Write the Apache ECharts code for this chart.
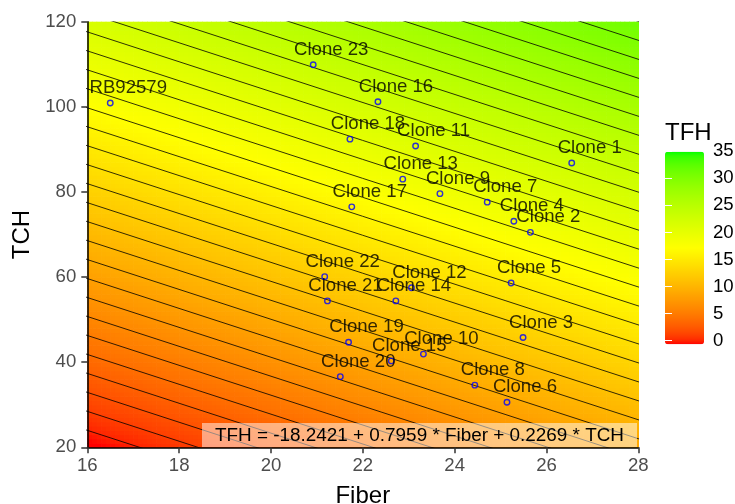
<!DOCTYPE html>
<html>
<head>
<meta charset="utf-8">
<script src="https://cdn.jsdelivr.net/npm/echarts@6/dist/echarts.min.js"></script>
<style>html,body{margin:0;padding:0;background:#fff;}#c{width:735px;height:504px;}</style>
</head>
<body>
<div id="c"></div>
<script>
// ---- data ----
const genotypes = ['RB92579','Clone 1','Clone 2','Clone 3','Clone 4','Clone 5','Clone 6','Clone 7','Clone 8','Clone 9','Clone 10','Clone 11','Clone 12','Clone 13','Clone 14','Clone 15','Clone 16','Clone 17','Clone 18','Clone 19','Clone 20','Clone 21','Clone 22','Clone 23'];
const fiber = [16.50,26.55,25.65,25.49,25.29,25.23,25.14,24.71,24.44,23.68,23.32,23.15,23.06,22.87,22.72,22.62,22.33,21.76,21.72,21.69,21.51,21.23,21.17,20.92];
const tch   = [100.9,86.8,70.5,45.8,73.1,58.6,30.6,77.6,34.6,79.6,41.9,90.8,57.5,83.0,54.4,40.3,101.2,76.5,92.4,44.7,36.6,54.4,60.1,109.9];
// fitted surface shown on the chart: TFH = b0 + b1*Fiber + b2*TCH
const b0 = -18.2421, b1 = 0.7959, b2 = 0.2269;
const equationText = 'TFH = -18.2421 + 0.7959 * Fiber + 0.2269 * TCH';
const xTicks = [16,18,20,22,24,26,28];
const yTicks = [20,40,60,80,100,120];
const legendTicks = [0,5,10,15,20,25,30,35];
const contourStart = -0.065, contourStep = 1.0115;
const colorMin = -0.66, colorMax = 35;

// ---- colour ramp red-yellow-green interpolated in CIELAB ----
function toLin(c){c/=255;return c<=0.04045?c/12.92:Math.pow((c+0.055)/1.055,2.4);}
function toLab(rgb){
  const r=toLin(rgb[0]),g=toLin(rgb[1]),b=toLin(rgb[2]);
  let X=(0.4124*r+0.3576*g+0.1805*b)/0.95047,Y=(0.2126*r+0.7152*g+0.0722*b),Z=(0.0193*r+0.1192*g+0.9505*b)/1.08883;
  const f=t=>t>0.008856?Math.cbrt(t):7.787*t+16/116;
  const fx=f(X),fy=f(Y),fz=f(Z);
  return [116*fy-16,500*(fx-fy),200*(fy-fz)];
}
function fromLab(lab){
  const fy=(lab[0]+16)/116,fx=fy+lab[1]/500,fz=fy-lab[2]/200;
  const inv=f=>{const c=f*f*f;return c>0.008856?c:(f-16/116)/7.787;};
  const X=inv(fx)*0.95047,Y=inv(fy),Z=inv(fz)*1.08883;
  let r=3.2406*X-1.5372*Y-0.4986*Z,g=-0.9689*X+1.8758*Y+0.0415*Z,b=0.0557*X-0.2040*Y+1.0570*Z;
  const gam=c=>{c=c<=0.0031308?12.92*c:1.055*Math.pow(c,1/2.4)-0.055;return Math.round(Math.max(0,Math.min(1,c))*255);};
  return 'rgb('+gam(r)+','+gam(g)+','+gam(b)+')';
}
const anchors=[[255,0,0],[255,255,0],[0,255,0]].map(toLab);
const ramp=[];
const NR=60;
for(let i=0;i<=NR;i++){
  const t=i/NR*2;const s=Math.min(1,Math.floor(t));
  const uu=t-s;
  const a=anchors[s],b=anchors[s+1];
  ramp.push(fromLab([a[0]+(b[0]-a[0])*uu,a[1]+(b[1]-a[1])*uu,a[2]+(b[2]-a[2])*uu]));
}

// ---- surface cells ----
const DF=0.1, DT=1;
const cells=[];
for(let f=16+DF/2; f<28; f+=DF){
  for(let t=20+DT/2; t<120; t+=DT){
    let z=b0+b1*f+b2*t;
    z=Math.max(colorMin,Math.min(colorMax,z));
    cells.push([f,t,z]);
  }
}

// ---- contour lines ----
const contourSeries=[];
for(let k=-1;k<=33;k++){
  const lev=contourStart+k*contourStep;
  const tAt=f=>(lev-b0-b1*f)/b2;
  contourSeries.push({
    type:'line', silent:true, symbol:'none', clip:true, z:3, animation:false,
    data:[[15,tAt(15)],[29,tAt(29)]],
    lineStyle:{color:'#000',width:0.8}
  });
}

const points=genotypes.map((n,i)=>({name:n,value:[fiber[i],tch[i]]}));
const FONT='Liberation Sans';

const chart=echarts.init(document.getElementById('c'),null,{renderer:'canvas'});
chart.setOption({
  animation:false,
  textStyle:{fontFamily:FONT},
  grid:[
    {left:87.3,right:96.7,top:21.7,bottom:56.7,containLabel:false,outerBoundsMode:'none'},
    {left:665,width:39,top:151.2,height:189.5,containLabel:false,outerBoundsMode:'none'}
  ],
  xAxis:[
    {type:'value',min:xTicks[0],max:xTicks[xTicks.length-1],interval:2,z:6,
     name:'Fiber',nameLocation:'middle',nameGap:37,nameTextStyle:{fontSize:24,color:'#000',fontFamily:FONT},
     axisLine:{lineStyle:{color:'#000',width:1.5}},
     axisTick:{length:6,lineStyle:{color:'#333',width:1.5}},
     axisLabel:{fontSize:18.6,color:'#4D4D4D',margin:9,fontFamily:FONT},
     splitLine:{show:false}},
    {gridIndex:1,type:'value',min:0,max:1,show:false}
  ],
  yAxis:[
    {type:'value',min:yTicks[0],max:yTicks[yTicks.length-1],interval:20,z:6,
     name:'TCH',nameLocation:'middle',nameGap:52,nameTextStyle:{fontSize:24,color:'#000',fontFamily:FONT},
     axisLine:{lineStyle:{color:'#000',width:1.5}},
     axisTick:{length:6,lineStyle:{color:'#333',width:1.5}},
     axisLabel:{fontSize:18.6,color:'#4D4D4D',margin:11,fontFamily:FONT},
     splitLine:{show:false}},
    {gridIndex:1,type:'value',min:legendTicks[0],max:legendTicks[legendTicks.length-1],interval:5,position:'right',z:10,
     axisLine:{show:false},
     axisTick:{inside:true,length:7,lineStyle:{color:'#fff',width:1}},
     axisLabel:{fontSize:18.6,color:'#000',margin:9,fontFamily:FONT},
     splitLine:{show:false}},
    {gridIndex:1,type:'value',min:legendTicks[0],max:legendTicks[legendTicks.length-1],interval:5,position:'left',z:10,
     axisLine:{show:false},
     axisTick:{inside:true,length:7,lineStyle:{color:'#fff',width:1}},
     axisLabel:{show:false},
     splitLine:{show:false}}
  ],
  visualMap:{
    type:'continuous',min:colorMin,max:colorMax,dimension:2,seriesIndex:0,
    orient:'vertical',left:665,top:151.7,itemWidth:39,itemHeight:192.6,padding:0,
    calculable:false,hoverLink:false,inRange:{color:ramp}
  },
  series:[
    {type:'custom',data:cells,encode:{x:0,y:1},clip:true,silent:true,z:1,animation:false,
     renderItem:function(params,api){
       const f=api.value(0),t=api.value(1);
       const p0=api.coord([f-DF/2,t+DT/2]),p1=api.coord([f+DF/2,t-DT/2]);
       return {type:'rect',shape:{x:p0[0],y:p0[1],width:p1[0]-p0[0]+0.7,height:p1[1]-p0[1]+0.7},style:{fill:api.visual('color')}};
     }},
    ...contourSeries,
    {type:'scatter',data:points,symbol:'circle',symbolSize:5.5,z:5,silent:true,
     itemStyle:{color:'rgba(0,0,0,0)',borderColor:'#0000FF',borderWidth:1.4},
     label:{show:true,formatter:'{b}',position:'inside',offset:[18,-15],fontSize:18.6,color:'#000',fontFamily:FONT}}
  ],
  graphic:[
    {type:'text',x:637,y:447,z:100,silent:true,
     style:{text:equationText,align:'right',verticalAlign:'bottom',font:'18.9px "Liberation Sans"',fill:'#000',
            backgroundColor:'rgba(255,255,255,0.5)',padding:[3,13,2,13]}},
    {type:'text',x:665,y:133,z:100,silent:true,
     style:{text:'TFH',align:'left',verticalAlign:'middle',font:'24px "Liberation Sans"',fill:'#000'}}
  ]
});
</script>
</body>
</html>
